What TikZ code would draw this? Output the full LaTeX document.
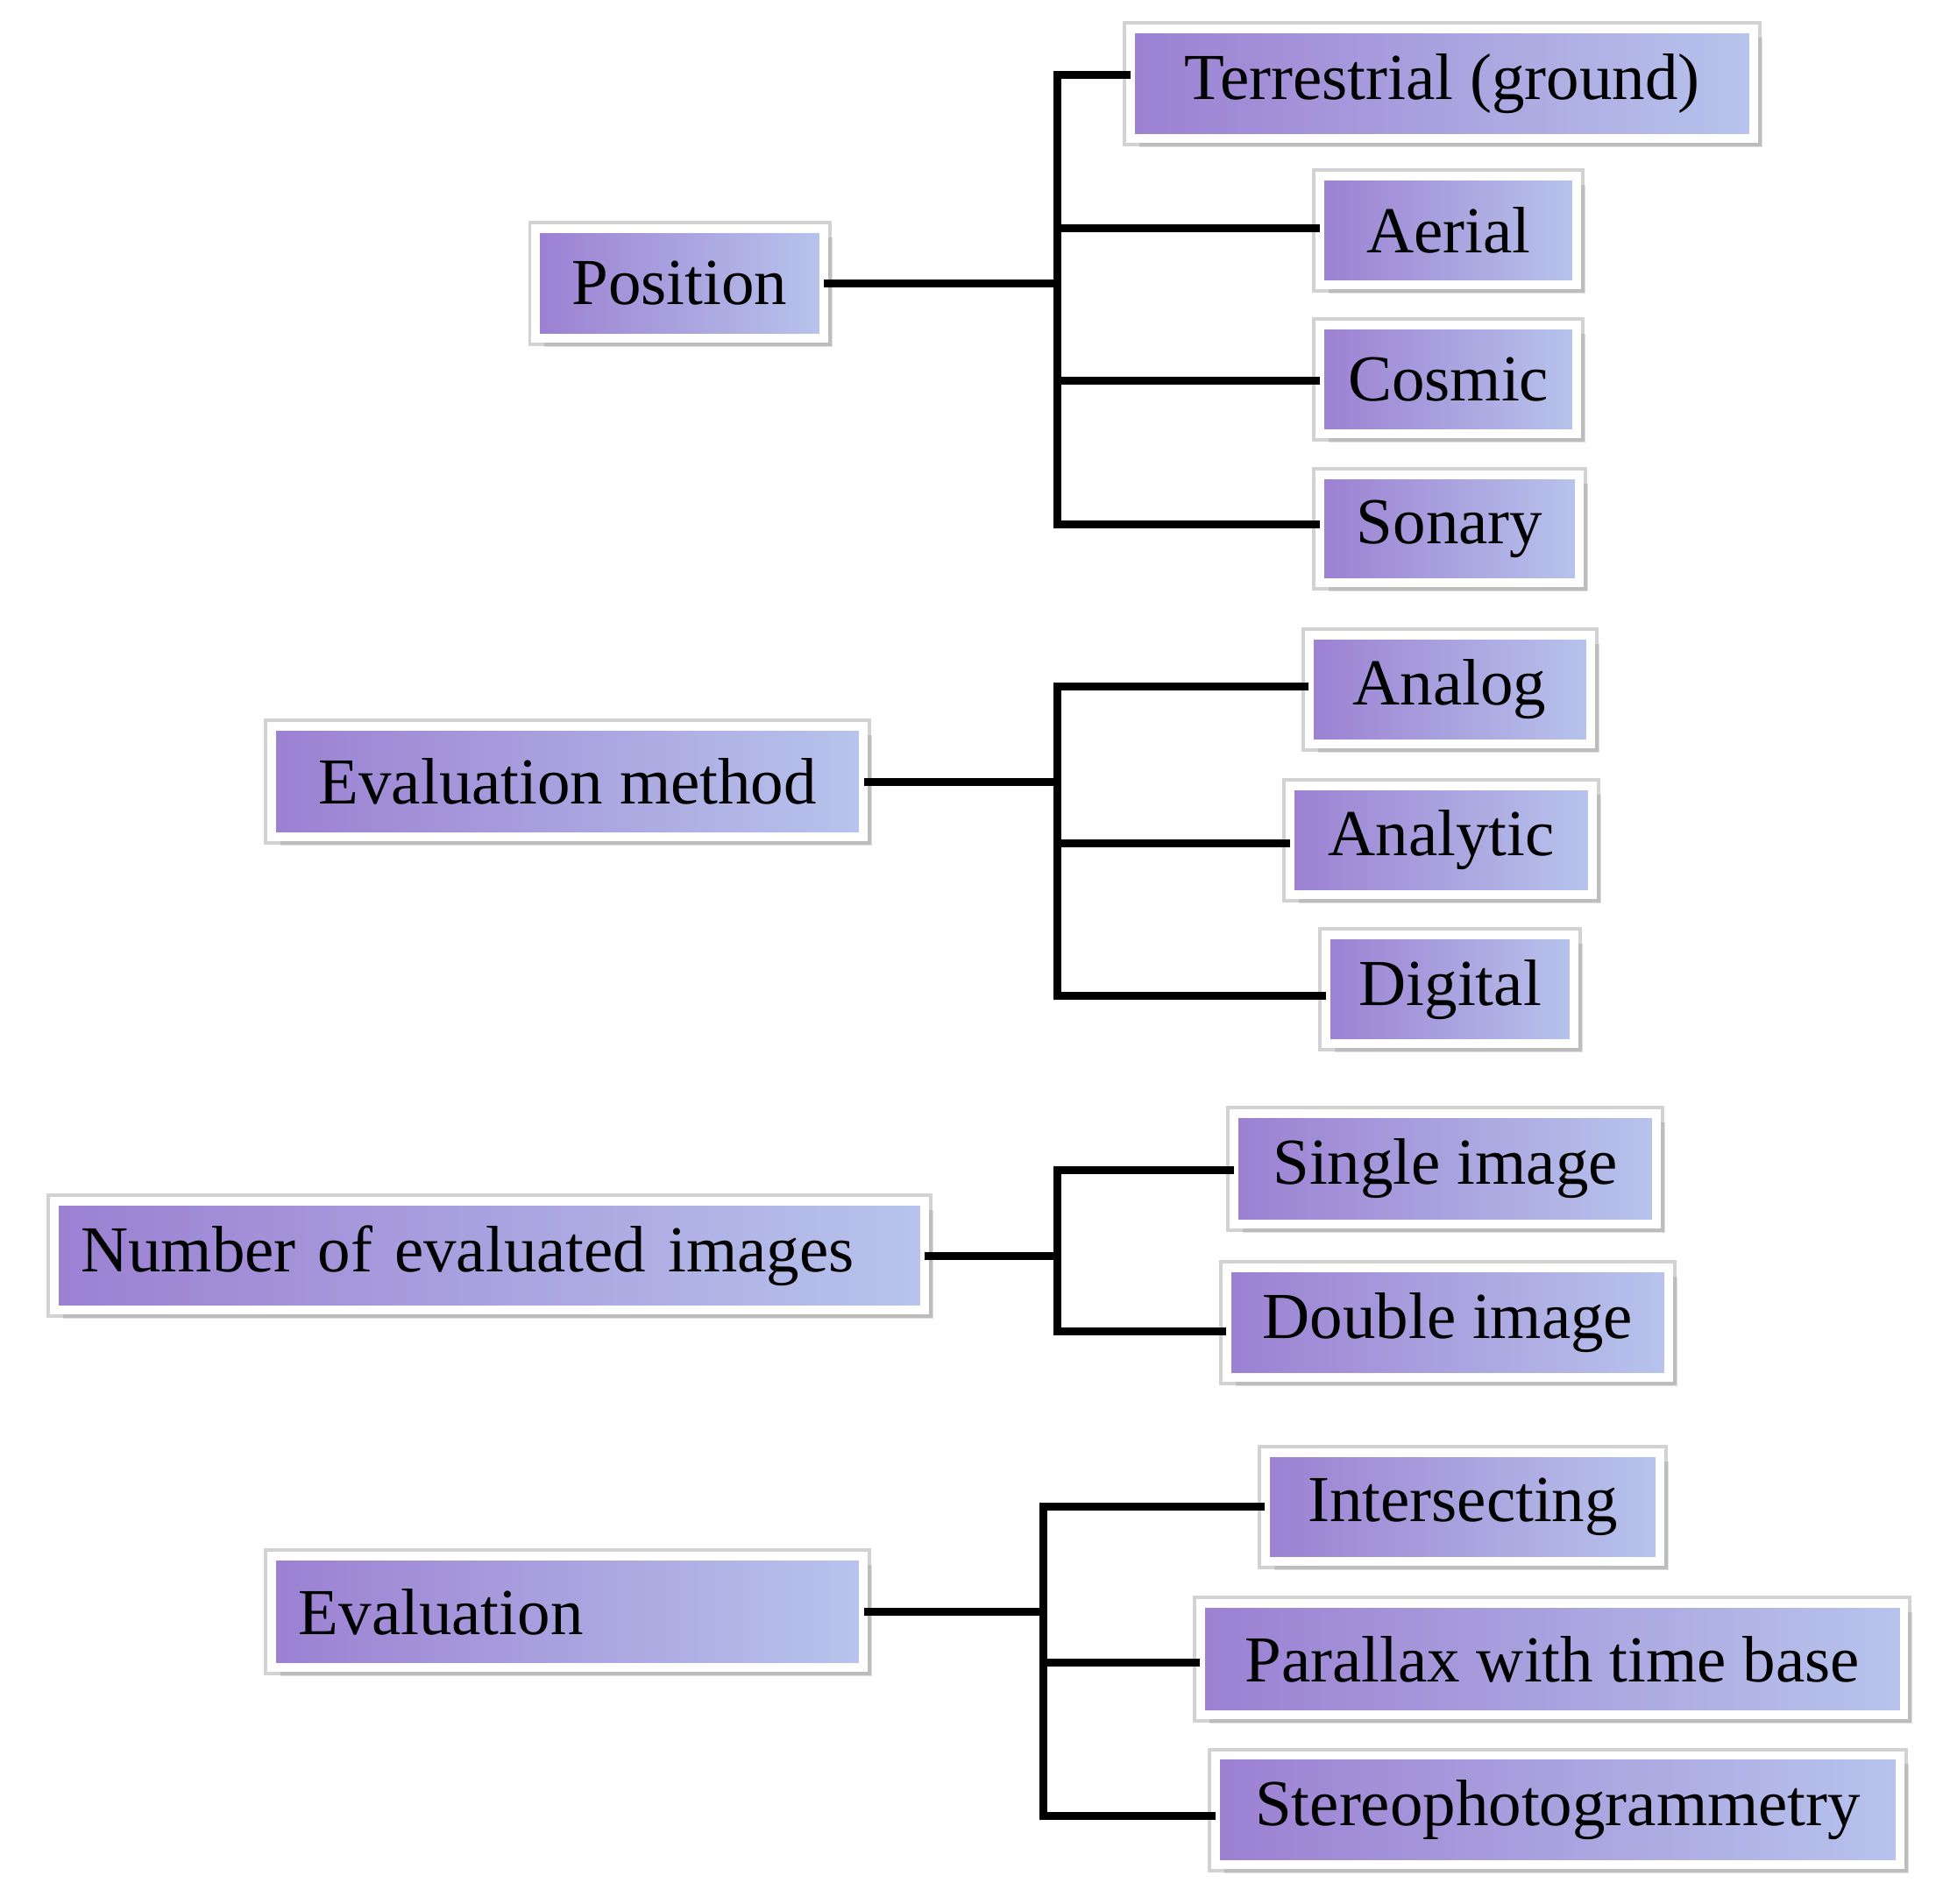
\documentclass[tikz,border=0pt]{standalone}
\usepackage{fontspec}
\setmainfont{Liberation Serif}
\usetikzlibrary{shadows}
\definecolor{pA}{HTML}{9C80D2}
\definecolor{pB}{HTML}{B7C4EC}
\tikzset{
 bx/.style={shade, left color=pA, right color=pB,
  draw=white, line width=2pt, inner sep=0pt,
  preaction={draw=gray!35, line width=3.6pt},
  drop shadow={opacity=0.25, shadow xshift=2pt, shadow yshift=-2pt},
  font=\fontsize{15}{18}\selectfont},
 ln/.style={line width=1.8pt, line cap=rect}
}
\newcommand{\bxn}[6]{% name, x1,y1,x2,y2,text
 \node[bx, minimum width={(#4-#2)*0.01cm-0.07cm}, minimum height={(#5-#3)*0.01cm-0.07cm}] (#1) at ({(#2+#4)/2*0.01},{-(#3+#5)/2*0.01}) {#6};}
\newcommand{\bxl}[6]{%
 \node[bx, minimum width={(#4-#2)*0.01cm-0.07cm}, minimum height={(#5-#3)*0.01cm-0.07cm}, text width={(#4-#2)*0.01cm-0.5cm}, align=left] (#1) at ({(#2+#4)/2*0.01},{-(#3+#5)/2*0.01}) {#6};}
\begin{document}
\begin{tikzpicture}
\useasboundingbox (0,0) rectangle (15.6,-15.29);
\bxn{ter}{905}{20}{1412}{115}{Terrestrial (ground)}
\bxn{aer}{1057}{138}{1270}{232}{Aerial}
\bxn{cos}{1057}{258}{1270}{352}{Cosmic}
\bxn{son}{1057}{378}{1272}{472}{Sonary}
\bxn{pos}{427}{180}{665}{275}{Position}
\bxn{ana}{1048}{507}{1281}{601}{Analog}
\bxn{aly}{1033}{628}{1283}{722}{Analytic}
\bxn{dig}{1062}{748}{1268}{842}{Digital}
\bxn{evm}{215}{580}{697}{676}{Evaluation method}
\bxn{sin}{988}{891}{1334}{987}{Single image}
\bxn{dou}{982}{1015}{1344}{1110}{Double image}
\bxl{num}{40}{962}{746}{1056}{Number of evaluated images}
\bxn{int}{1013}{1164}{1337}{1258}{Intersecting}
\bxn{par}{961}{1285}{1533}{1381}{Parallax with time base}
\bxn{ste}{973}{1407}{1530}{1502}{Stereophotogrammetry}
\bxl{eva}{215}{1247}{697}{1343}{Evaluation}
% connectors
\coordinate (b1) at (8.49,-2.27);
\draw[ln] (pos.east) -- (pos.east-|b1);
\draw[ln] (8.49,-0.60) -- (8.49,-4.21);
\draw[ln] (8.49,-0.60) -- (ter.west|-0,-0.60);
\draw[ln] (8.49,-1.83) -- (aer.west|-0,-1.83);
\draw[ln] (8.49,-3.06) -- (cos.west|-0,-3.06);
\draw[ln] (8.49,-4.21) -- (son.west|-0,-4.21);
\coordinate (b2) at (8.49,-6.37);
\draw[ln] (evm.east) -- (evm.east-|b2);
\draw[ln] (8.49,-5.51) -- (8.49,-8.00);
\draw[ln] (8.49,-5.51) -- (ana.west|-0,-5.51);
\draw[ln] (8.49,-6.77) -- (aly.west|-0,-6.77);
\draw[ln] (8.49,-8.00) -- (dig.west|-0,-8.00);
\coordinate (b3) at (8.49,-10.13);
\draw[ln] (num.east) -- (num.east-|b3);
\draw[ln] (8.49,-9.40) -- (8.49,-10.69);
\draw[ln] (8.49,-9.40) -- (sin.west|-0,-9.40);
\draw[ln] (8.49,-10.69) -- (dou.west|-0,-10.69);
\coordinate (b4) at (8.38,-12.95);
\draw[ln] (eva.east) -- (eva.east-|b4);
\draw[ln] (8.38,-12.10) -- (8.38,-14.58);
\draw[ln] (8.38,-12.10) -- (int.west|-0,-12.10);
\draw[ln] (8.38,-13.35) -- (par.west|-0,-13.35);
\draw[ln] (8.38,-14.58) -- (ste.west|-0,-14.58);
\end{tikzpicture}
\end{document}
